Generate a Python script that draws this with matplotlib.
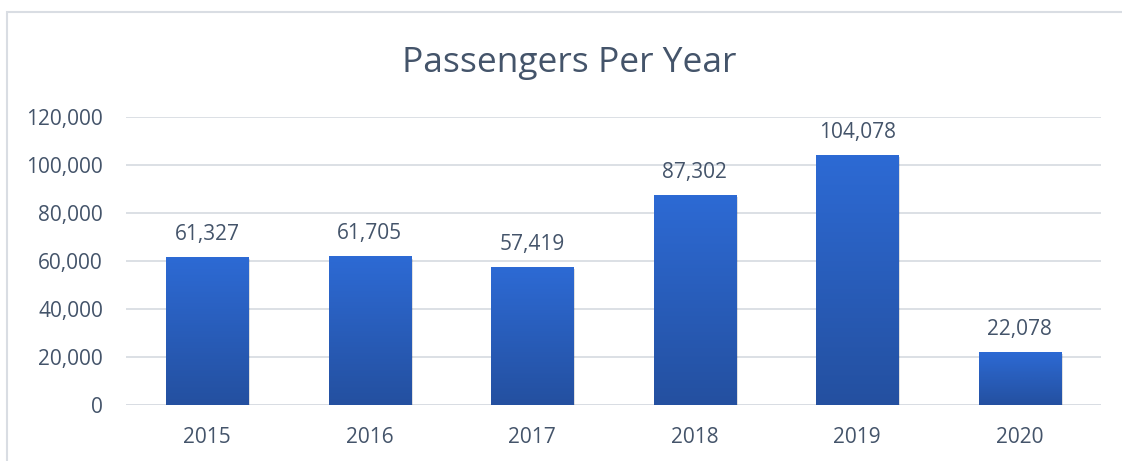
import matplotlib.pyplot as plt
import numpy as np
from matplotlib.patches import Rectangle
from matplotlib.colors import LinearSegmentedColormap

years = ['2015', '2016', '2017', '2018', '2019', '2020']
passengers = [61327, 61705, 57419, 87302, 104078, 22078]

text_color = '#44546a'
grid_color = '#d9dde3'

plt.rcParams['font.family'] = ['Open Sans', 'DejaVu Sans']

fig = plt.figure(figsize=(11.22, 4.61), dpi=100)
ax = fig.add_axes([126 / 1122, 1 - 405 / 461, 975 / 1122, 288 / 461])

# outer chart frame
fig.patches.append(Rectangle((7 / 1122, -0.1), 1.2, 1 - 12 / 461 + 0.1,
                             transform=fig.transFigure, fill=False,
                             edgecolor='#d9dde3', linewidth=1.5))

x = np.arange(len(years))
width = 0.505
grad = LinearSegmentedColormap.from_list('blues', ['#2450a0', '#2d6ad4'])
bars = ax.bar(x, passengers, width=width, color='none', zorder=3)

for bar, val in zip(bars, passengers):
    x0 = bar.get_x()
    # soft shadow under each bar
    ax.add_patch(Rectangle((x0 + 0.012, -700), width, val, color='#000000',
                           alpha=0.12, zorder=2, linewidth=0))
    ax.imshow(np.linspace(0, 1, 100).reshape(-1, 1), cmap=grad,
              origin='lower', aspect='auto',
              extent=(x0, x0 + width, 0, val), zorder=3)
    ax.text(bar.get_x() + width / 2, val + 5200, f'{val:,}', ha='center',
            va='bottom', fontsize=15, color=text_color)

ax.set_xlim(-0.5, len(years) - 0.5)
ax.set_ylim(0, 120000)
ax.set_yticks(np.arange(0, 120001, 20000))
ax.yaxis.set_major_formatter(plt.FuncFormatter(lambda v, p: f'{int(v):,}'))
ax.set_xticks(x)
ax.set_xticklabels(years)
ax.tick_params(axis='both', length=0, labelsize=15, labelcolor=text_color)
ax.tick_params(axis='y', pad=16.5)
ax.tick_params(axis='x', pad=16)
ax.grid(axis='y', color=grid_color, linewidth=1.3, zorder=0)
for s in ax.spines.values():
    s.set_visible(False)
ax.axhline(0, color=grid_color, linewidth=1.3, zorder=1)
ax.set_facecolor('none')

fig.text(569 / 1122, 1 - 63 / 461, 'Passengers Per Year', ha='center',
         va='center', fontsize=25.5, color=text_color)

fig.savefig('out.png', dpi=100)
